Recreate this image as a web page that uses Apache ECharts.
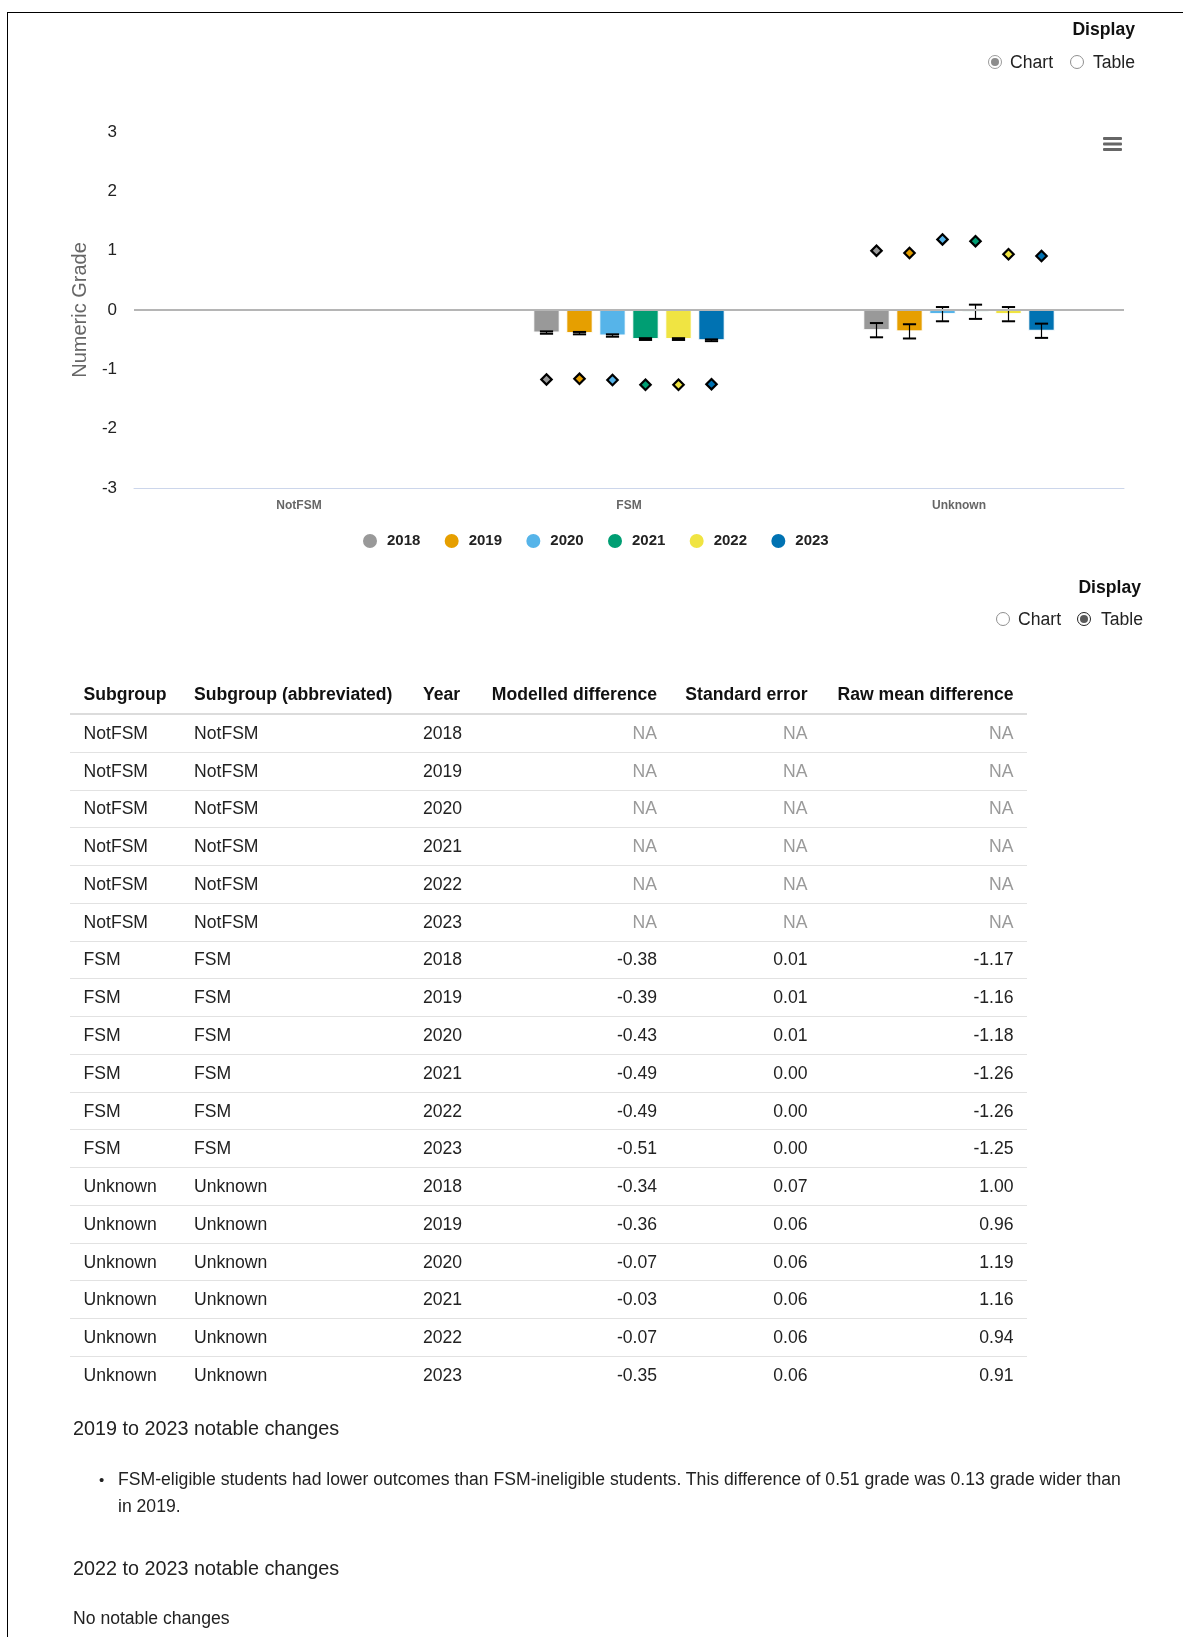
<!DOCTYPE html>
<html>
<head>
<meta charset="utf-8">
<script src="https://cdn.jsdelivr.net/npm/echarts@6/dist/echarts.min.js"></script>
<style>
html,body{margin:0;padding:0;background:#fff;}
body{width:1183px;height:1637px;position:relative;overflow:hidden;font-family:Arial,"Liberation Sans",Helvetica,sans-serif;color:#222;}
#frame{position:absolute;left:7px;top:12px;right:0;bottom:-5px;border-top:1px solid #000;border-left:1.5px solid #000;}
#chart{position:absolute;left:0;top:0;width:1183px;height:580px;}
.abs{position:absolute;white-space:nowrap;}
.disp{font-weight:bold;font-size:17.6px;line-height:24px;color:#111;}
.lbl{font-size:17.6px;line-height:24px;color:#222;}
.rad{position:absolute;width:14px;height:14px;border-radius:50%;box-sizing:border-box;background:#fff;}
.rad.off{border:1px solid #8f8f8f;}
.rad.onlight{border:1px solid #9a9a9a;}
.rad.onlight::after{content:"";position:absolute;left:2px;top:2px;width:8px;height:8px;border-radius:50%;background:#8c8c8c;}
.rad.ondark{border:1.5px solid #222;}
.rad.ondark::after{content:"";position:absolute;left:1.5px;top:1.5px;width:8px;height:8px;border-radius:50%;background:#5a5a5a;}
#tbl{position:absolute;left:70px;top:675px;width:957px;font-size:17.6px;}
.tr{display:flex;box-sizing:border-box;align-items:center;}
.th{height:40px;border-bottom:2px solid #dcdcdc;font-weight:bold;color:#111;}
.td{height:37.77px;border-bottom:1px solid #e2e2e2;color:#222;}
.td.last{border-bottom:none;}
.c{padding:0 13.5px;box-sizing:border-box;white-space:nowrap;overflow:visible;}
.r{text-align:right;}
.na{color:#9a9a9a;}
.h2{font-size:19.8px;line-height:28px;color:#222;}
.txt{font-size:17.6px;line-height:27px;color:#222;}
</style>
</head>
<body>
<div id="chart"></div>
<div id="frame"></div>

<div class="abs disp" style="right:48px;top:17px;">Display</div>
<div class="rad onlight" style="left:988px;top:55px;"></div>
<div class="abs lbl" style="left:1010px;top:50px;">Chart</div>
<div class="rad off" style="left:1070px;top:55px;"></div>
<div class="abs lbl" style="left:1093px;top:50px;">Table</div>

<div class="abs disp" style="right:42px;top:575px;">Display</div>
<div class="rad off" style="left:996px;top:612px;"></div>
<div class="abs lbl" style="left:1018px;top:607px;">Chart</div>
<div class="rad ondark" style="left:1077px;top:612px;"></div>
<div class="abs lbl" style="left:1101px;top:607px;">Table</div>

<div id="tbl"></div>

<div class="abs h2" style="left:73px;top:1414px;">2019 to 2023 notable changes</div>
<div class="abs txt" style="left:99px;top:1465.5px;font-size:15px;">•</div>
<div class="abs txt" style="left:118px;top:1465.5px;width:1012px;white-space:normal;">FSM-eligible students had lower outcomes than FSM-ineligible students. This difference of 0.51 grade was 0.13 grade wider than in 2019.</div>
<div class="abs h2" style="left:73px;top:1554px;">2022 to 2023 notable changes</div>
<div class="abs txt" style="left:73px;top:1605px;">No notable changes</div>

<script>
// ---------- data ----------
const categories = ['NotFSM', 'FSM', 'Unknown'];
const years = ['2018', '2019', '2020', '2021', '2022', '2023'];
const yTicks = [-3, -2, -1, 0, 1, 2, 3];

// modelled difference per year, one value per category
const modelled2018 = [null, -0.38, -0.34];
const modelled2019 = [null, -0.39, -0.36];
const modelled2020 = [null, -0.43, -0.07];
const modelled2021 = [null, -0.49, -0.03];
const modelled2022 = [null, -0.49, -0.07];
const modelled2023 = [null, -0.51, -0.35];

// standard error per year
const se2018 = [null, 0.01, 0.07];
const se2019 = [null, 0.01, 0.06];
const se2020 = [null, 0.01, 0.06];
const se2021 = [null, 0.00, 0.06];
const se2022 = [null, 0.00, 0.06];
const se2023 = [null, 0.00, 0.06];

// raw mean difference per year
const raw2018 = [null, -1.17, 1.00];
const raw2019 = [null, -1.16, 0.96];
const raw2020 = [null, -1.18, 1.19];
const raw2021 = [null, -1.26, 1.16];
const raw2022 = [null, -1.26, 0.94];
const raw2023 = [null, -1.25, 0.91];

// error bar low / high per year
const errLow2018  = [null, -0.40, -0.46];
const errHigh2018 = [null, -0.36, -0.22];
const errLow2019  = [null, -0.41, -0.48];
const errHigh2019 = [null, -0.37, -0.24];
const errLow2020  = [null, -0.45, -0.19];
const errHigh2020 = [null, -0.41, 0.05];
const errLow2021  = [null, -0.505, -0.15];
const errHigh2021 = [null, -0.475, 0.09];
const errLow2022  = [null, -0.505, -0.19];
const errHigh2022 = [null, -0.475, 0.05];
const errLow2023  = [null, -0.525, -0.47];
const errHigh2023 = [null, -0.495, -0.23];

const modelled = [modelled2018, modelled2019, modelled2020, modelled2021, modelled2022, modelled2023];
const ses = [se2018, se2019, se2020, se2021, se2022, se2023];
const raws = [raw2018, raw2019, raw2020, raw2021, raw2022, raw2023];
const errLows = [errLow2018, errLow2019, errLow2020, errLow2021, errLow2022, errLow2023];
const errHighs = [errHigh2018, errHigh2019, errHigh2020, errHigh2021, errHigh2022, errHigh2023];

// ---------- styles ----------
const yearColors = ['#999999', '#E69F00', '#56B4E9', '#009E73', '#F0E442', '#0072B2'];
const FONT = 'Arial, "Liberation Sans", Helvetica, sans-serif';
const CAT_GAP = 0.42, BAR_GAP = 0.25;

// ---------- table ----------
(function buildTable() {
  const widths = [110.5, 229, 67, 194, 150.5, 206];
  const heads = ['Subgroup', 'Subgroup (abbreviated)', 'Year', 'Modelled difference', 'Standard error', 'Raw mean difference'];
  const fmt = v => (v === null || v === undefined) ? '<span class="na">NA</span>' : v.toFixed(2);
  let html = '<div class="tr th">';
  heads.forEach((h, i) => {
    html += '<div class="c' + (i >= 3 ? ' r' : '') + '" style="width:' + widths[i] + 'px">' + h + '</div>';
  });
  html += '</div>';
  const total = categories.length * years.length;
  let n = 0;
  categories.forEach((cat, ci) => {
    years.forEach((yr, yi) => {
      n++;
      const cells = [cat, cat, yr, fmt(modelled[yi][ci]), fmt(ses[yi][ci]), fmt(raws[yi][ci])];
      html += '<div class="tr td' + (n === total ? ' last' : '') + '">';
      cells.forEach((c, i) => {
        html += '<div class="c' + (i >= 3 ? ' r' : '') + '" style="width:' + widths[i] + 'px">' + c + '</div>';
      });
      html += '</div>';
    });
  });
  document.getElementById('tbl').innerHTML = html;
})();

// ---------- chart ----------
const chart = echarts.init(document.getElementById('chart'), null, { renderer: 'canvas' });

function slotInfo(api) {
  const band = api.size([1, 0])[0];
  const n = years.length;
  const barW = band * (1 - CAT_GAP) / (n + (n - 1) * BAR_GAP);
  return { barW: barW, slot: barW * (1 + BAR_GAP), n: n };
}

const errData = [];
const rawData = [];
categories.forEach((cat, ci) => {
  years.forEach((yr, yi) => {
    if (errLows[yi][ci] !== null) errData.push([ci, yi, errLows[yi][ci], errHighs[yi][ci]]);
    if (raws[yi][ci] !== null) rawData.push([ci, yi, raws[yi][ci]]);
  });
});

const barSeries = years.map((yr, yi) => {
  const s = {
    name: yr,
    type: 'bar',
    data: modelled[yi],
    barGap: (BAR_GAP * 100) + '%',
    barCategoryGap: (CAT_GAP * 100) + '%',
    itemStyle: { color: yearColors[yi], borderColor: '#ffffff', borderWidth: 1 },
    z: 3,
    silent: true
  };
  if (yi === 0) {
    s.markLine = {
      silent: true, symbol: ['none', 'none'], label: { show: false },
      lineStyle: { color: '#b5b5b5', width: 2, type: 'solid' },
      data: [{ yAxis: 0 }]
    };
  }
  return s;
});

const errSeries = {
  name: 'errorbars',
  type: 'custom',
  data: errData,
  encode: { x: 0, y: [2, 3] },
  z: 4,
  silent: true,
  renderItem: function (params, api) {
    const ci = api.value(0), yi = api.value(1);
    const info = slotInfo(api);
    const off = (yi - (info.n - 1) / 2) * info.slot;
    const lo = api.coord([ci, api.value(2)]);
    const hi = api.coord([ci, api.value(3)]);
    const x = lo[0] + off;
    const w = info.barW * 0.25;
    return {
      type: 'group',
      children: [
        { type: 'line', shape: { x1: x, y1: hi[1], x2: x, y2: lo[1] }, style: { stroke: '#000', lineWidth: 1.2 } },
        { type: 'line', shape: { x1: x - w, y1: hi[1], x2: x + w, y2: hi[1] }, style: { stroke: '#000', lineWidth: 2 } },
        { type: 'line', shape: { x1: x - w, y1: lo[1], x2: x + w, y2: lo[1] }, style: { stroke: '#000', lineWidth: 2 } }
      ]
    };
  }
};

const rawSeries = {
  name: 'raw',
  type: 'custom',
  data: rawData,
  encode: { x: 0, y: 2 },
  z: 5,
  silent: true,
  renderItem: function (params, api) {
    const ci = api.value(0), yi = api.value(1);
    const info = slotInfo(api);
    const off = (yi - (info.n - 1) / 2) * info.slot;
    const p = api.coord([ci, api.value(2)]);
    const x = p[0] + off, y = p[1], r = 5.2;
    return {
      type: 'polygon',
      shape: { points: [[x, y - r], [x + r, y], [x, y + r], [x - r, y]] },
      style: { fill: yearColors[yi], stroke: '#000', lineWidth: 2.2 }
    };
  }
};

const option = {
  animation: false,
  textStyle: { fontFamily: FONT },
  grid: { left: 134, right: 59, top: 132, bottom: 92, containLabel: false },
  legend: {
    data: years,
    icon: 'circle',
    itemWidth: 16,
    itemHeight: 16,
    itemGap: 22.3,
    left: 356,
    top: 527,
    selectedMode: false,
    textStyle: { fontSize: 15, fontWeight: 'bold', color: '#222', fontFamily: FONT, padding: [0, 0, 0, 4] }
  },
  xAxis: {
    type: 'category',
    data: categories,
    position: 'bottom',
    axisLine: { show: true, onZero: false, lineStyle: { color: '#ccd6eb', width: 1 } },
    axisTick: { show: false },
    axisLabel: { fontSize: 12, color: '#666', margin: 12, fontWeight: 'bold', fontFamily: FONT },
    splitLine: { show: false }
  },
  yAxis: {
    type: 'value',
    min: yTicks[0],
    max: yTicks[yTicks.length - 1],
    interval: 1,
    name: 'Numeric Grade',
    nameLocation: 'middle',
    nameGap: 41,
    nameRotate: 90,
    nameTextStyle: { fontSize: 20, color: '#666', fontFamily: FONT },
    axisLine: { show: false },
    axisTick: { show: false },
    splitLine: { show: false },
    axisLabel: { fontSize: 17, color: '#222', margin: 17, fontFamily: FONT }
  },
  graphic: [
    { type: 'rect', shape: { x: 1103, y: 137, width: 19, height: 3, r: 1 }, style: { fill: '#666' } },
    { type: 'rect', shape: { x: 1103, y: 142.5, width: 19, height: 3, r: 1 }, style: { fill: '#666' } },
    { type: 'rect', shape: { x: 1103, y: 148, width: 19, height: 3, r: 1 }, style: { fill: '#666' } }
  ],
  series: barSeries.concat([errSeries, rawSeries])
};

chart.setOption(option);
</script>
</body>
</html>
